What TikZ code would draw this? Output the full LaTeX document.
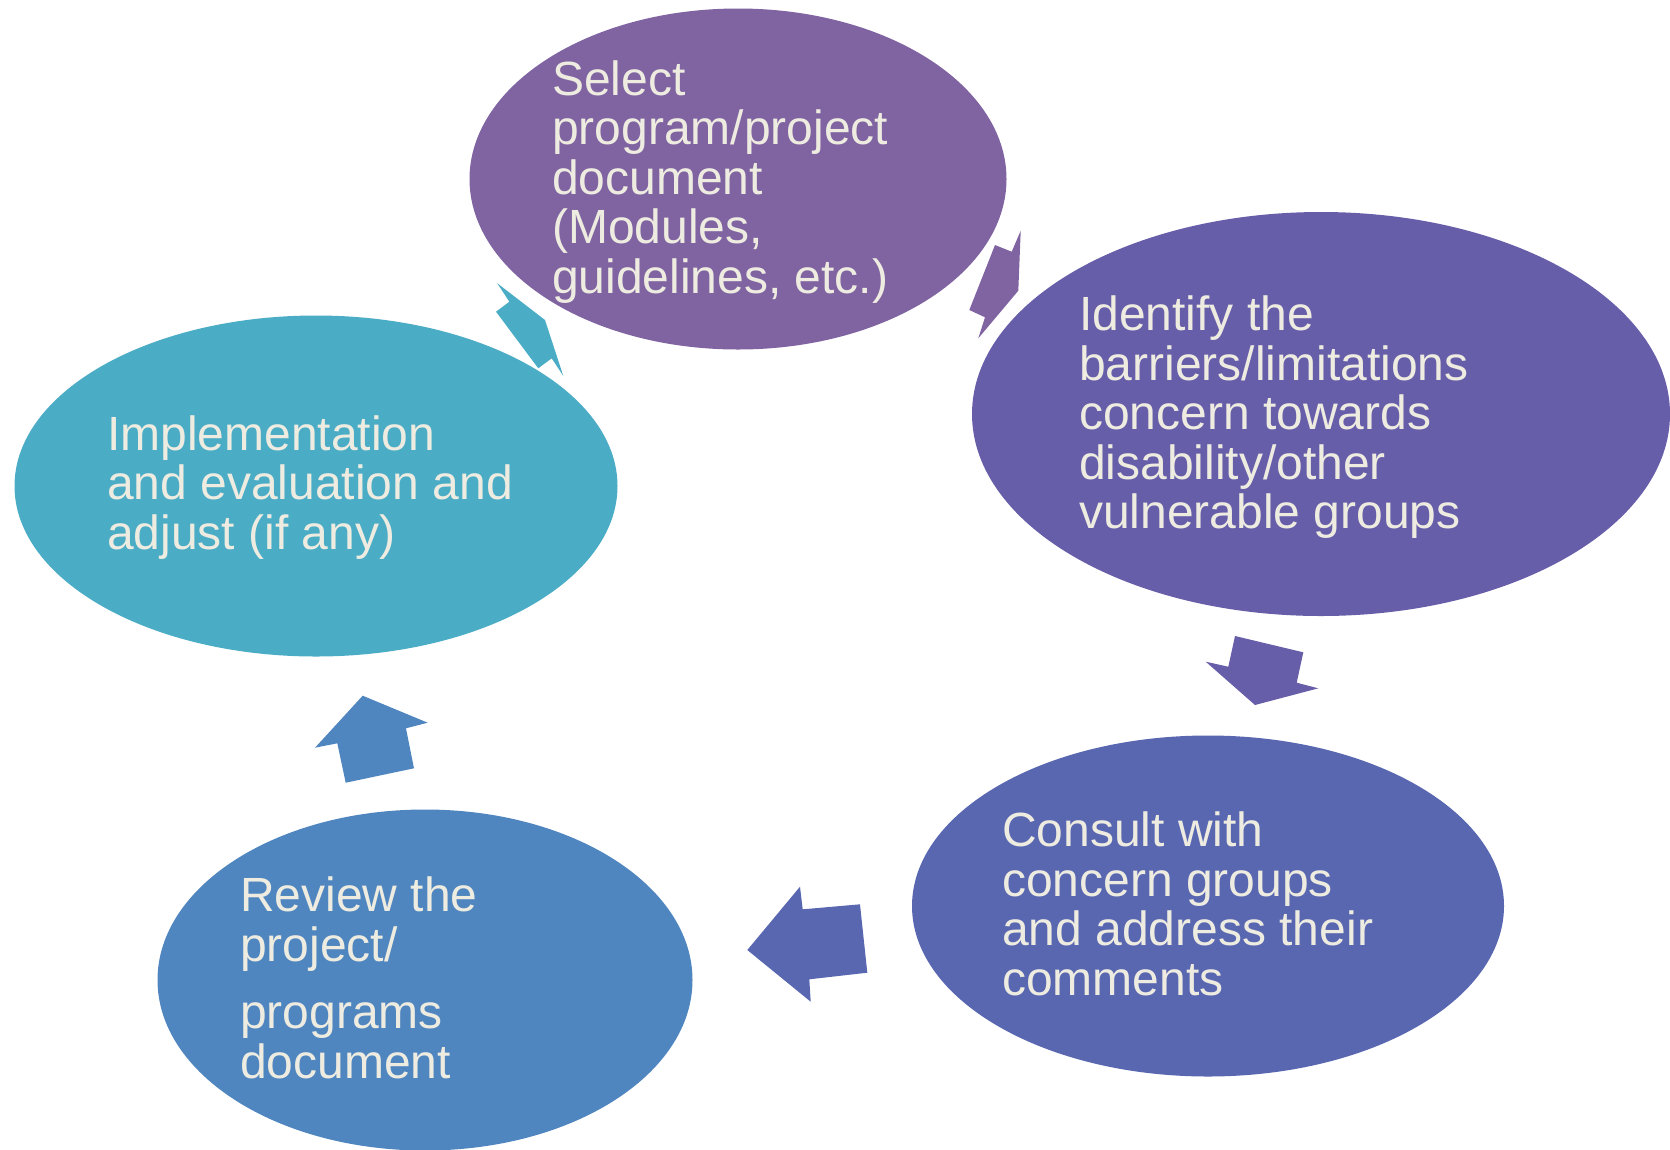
\documentclass[tikz,border=0pt]{standalone}
\usepackage{fontspec}
\setmainfont{Liberation Sans}
\usetikzlibrary{shapes.geometric}
\definecolor{cTop}{HTML}{8064A2}
\definecolor{cRight}{HTML}{675EA9}
\definecolor{cBR}{HTML}{5967B1}
\definecolor{cBL}{HTML}{5086BF}
\definecolor{cLeft}{HTML}{4BACC6}
\definecolor{cText}{HTML}{EEECE1}
\tikzset{
  blob/.style={ellipse, draw=none, inner sep=0pt},
  lbl/.style={anchor=base west, inner sep=0pt, text=cText},
}
\newcommand{\lines}[1]{\parbox[t]{700pt}{\raggedright\fontsize{48}{49.6}\selectfont #1}}
\begin{document}
\begin{tikzpicture}[x=1pt,y=-1pt]
\useasboundingbox (0,0) rectangle (1670,1149);
% ellipses
\node[blob, fill=cTop, minimum width=537, minimum height=341] (top) at (738,179) {};
\node[blob, fill=cRight, minimum width=698, minimum height=404] (right) at (1321,414) {};
\node[blob, fill=cBR, minimum width=592, minimum height=341] (br) at (1208,906) {};
\node[blob, fill=cBL, minimum width=535, minimum height=341] (bl) at (425,980) {};
\node[blob, fill=cLeft, minimum width=603, minimum height=341] (left) at (316,486) {};
% texts
\node[lbl] (ttop) at (552,95) {\lines{Select\\program/project\\document\\(Modules,\\guidelines, etc.)}};
\node[lbl] (tright) at (1079,330.5) {\lines{Identify the\\barriers/limitations\\concern towards\\disability/other\\vulnerable groups}};
\node[lbl] (tbr) at (1002,846.5) {\lines{Consult with\\concern groups\\and address their\\comments}};
\node[lbl] (tbl) at (240,911.5) {\lines{Review the\\project/\\[18pt]programs\\document}};
\node[lbl] (tleft) at (107,450) {\lines{Implementation\\and evaluation and\\adjust (if any)}};
% arrows
\fill[cTop] (1020.7,230.7) -- (1018.3,290.7) -- (978.3,338.3) -- (985,317.3) -- (969.3,310) -- (995,245) -- (1011.7,251.7) -- cycle;
\fill[cRight] (1235,636) -- (1303.3,652.3) -- (1296.7,682.7) -- (1318.3,688.3) -- (1255,705) -- (1205.7,661.7) -- (1228.3,666.7) -- cycle;
\fill[cBR] (800,886.7) -- (802.7,909.3) -- (860,904.3) -- (867.3,972.7) -- (809.3,979.3) -- (810.7,1001.7) -- (747.3,950) -- cycle;
\fill[cBL] (362.7,695.7) -- (427.7,722.7) -- (406,728.3) -- (414,768.3) -- (345.7,782.7) -- (337.3,743.3) -- (315,747.7) -- cycle;
\fill[cLeft] (497.3,283.3) -- (509.3,301.7) -- (496,311.7) -- (538.3,368.3) -- (551.7,358.3) -- (563.3,376) -- (545,320) -- cycle;
\end{tikzpicture}
\end{document}
